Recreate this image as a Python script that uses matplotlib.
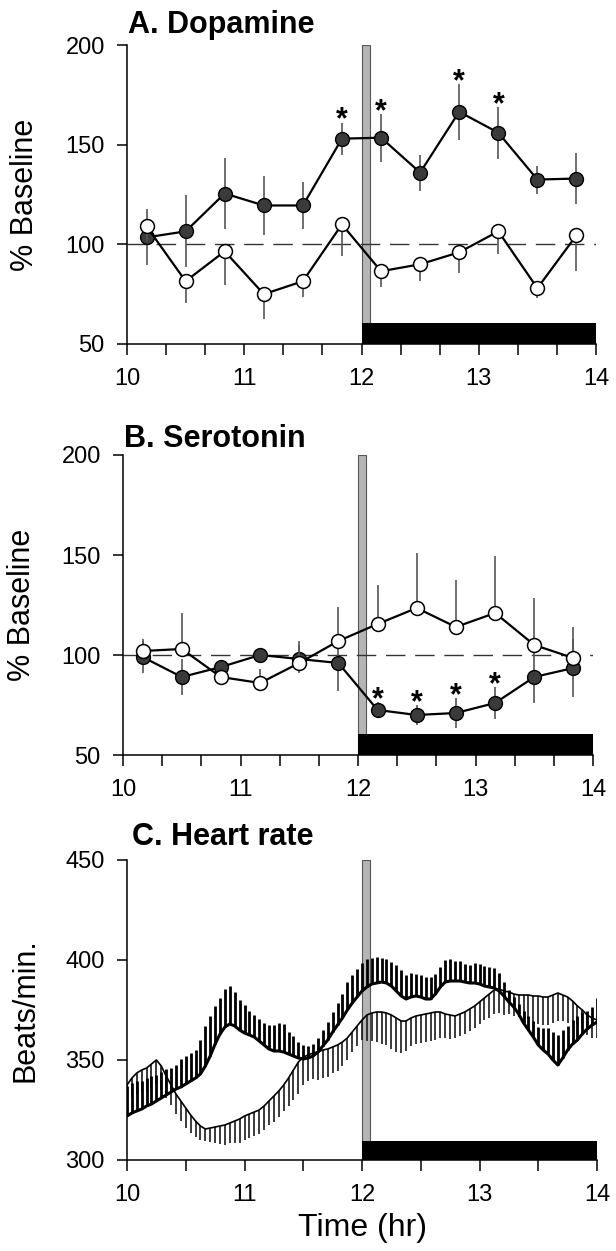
import numpy as np
import matplotlib.pyplot as plt
from matplotlib.ticker import MultipleLocator

plt.rcParams.update({
    'font.family': ['Liberation Sans', 'DejaVu Sans'],
    'font.size': 17,
    'axes.linewidth': 1.1,
    'xtick.major.size': 8, 'xtick.minor.size': 8,
    'ytick.major.size': 7,
    'xtick.major.width': 1.1, 'xtick.minor.width': 1.1,
    'ytick.major.width': 1.1,
    'xtick.major.pad': 9, 'ytick.major.pad': 9,
})

# dialysate samples (20 min bins), % of baseline
sample_time = [10.167, 10.5, 10.833, 11.167, 11.5, 11.833,
               12.167, 12.5, 12.833, 13.167, 13.5, 13.833]

da_filled = [103.5, 106.5, 125.5, 119.5, 119.5, 153, 153.5, 136, 166.5, 156, 132.5, 133]
da_filled_err = [14, 18, 18, 15, 12, 8, 12, 9, 14, 13, 7, 13]
da_open = [109, 81.5, 96.5, 75, 81.5, 110, 86.5, 90, 96, 106.5, 78, 104.5]
da_open_err = [8, 11, 17, 12.5, 8, 16, 8, 8.5, 10.5, 11.5, 5, 18]      # drawn downward
da_stars = [11.833, 12.167, 12.833, 13.167]

sero_filled = [99, 89, 94, 100, 98, 96, 72.5, 70, 71, 76, 89, 93.5]
sero_filled_err = [8, 9, 3, 3, 7, 14, 4, 5, 7.5, 8, 13, 14.5]
sero_open = [102, 103, 89, 86, 96, 107, 115.5, 123.5, 114, 121, 105, 98.5]
sero_open_err = [6, 18, 3, 7, 11, 17, 19.5, 27.5, 23.5, 28.5, 23.5, 15.5]  # drawn upward
sero_stars = [12.167, 12.5, 12.833, 13.167]

# heart rate, 2.5 min bins from 10:00 to 14:00
hr_filled = [
    322, 323.5, 324.5, 325.5, 327, 328, 329.5, 331, 332.5, 334, 335.5, 336.5,
    338, 339.5, 341, 343, 347, 352, 358, 363, 366.5, 368, 367, 365,
    363.5, 362.5, 361.5, 359.5, 357.5, 355.5, 354.5, 354.5, 354, 353, 352, 351,
    350.5, 351, 352, 354, 357, 360, 364, 367.5, 371, 375, 378.5, 381.5,
    384.5, 386.5, 388, 388.5, 389, 388.5, 387, 384.5, 382, 380.5, 381.5, 382,
    381.5, 380.5, 380.5, 383, 386.5, 389, 389.5, 389.5, 389.5, 389, 388.5, 388.5,
    388, 387, 386.5, 386, 384.5, 382, 379, 376.5, 373, 368.5, 365, 361.5,
    357.5, 355, 353, 350, 347.5, 351, 355, 358, 360, 363, 365.5, 367.5,
    369]
hr_filled_err = [
    15, 15, 15, 14, 14, 14, 13, 13, 13, 12, 12, 14,
    14, 14, 14, 17, 20, 20, 19, 18, 19, 19, 17, 15,
    14, 12, 11, 11, 11, 12, 13, 14, 14, 11, 10, 8,
    7, 6, 6, 7, 8, 9, 10, 11, 12, 14, 14, 14,
    14, 14, 13, 13, 12, 12, 12, 13, 13, 12, 12, 11,
    11, 11, 11, 10, 10, 11, 11, 10, 10, 9, 9, 10,
    10, 10, 10, 10, 9, 7, 6, 5, 5, 6, 7, 8,
    9, 11, 13, 14, 15, 14, 12, 12, 12, 11, 9, 9,
    12]
hr_open = [
    337.5, 341, 343.5, 345, 346, 348, 350, 347, 342, 337.5, 333, 329.5,
    326, 322.5, 319.5, 317, 315.5, 316, 316.5, 317, 317.5, 318.5, 319.5, 320.5,
    322, 323, 324, 325, 327, 329.5, 332, 334.5, 337.5, 341, 345, 349,
    351.5, 352.5, 353.5, 354, 355, 355.5, 356.5, 357.5, 359, 361, 364, 367,
    370, 372.5, 373.5, 374, 374, 373.5, 372.5, 371, 369.5, 369.5, 371, 372,
    372.5, 373, 373.5, 374, 374, 373, 372.5, 372, 373, 374, 375.5, 377,
    379, 381, 383, 385, 385.5, 384.5, 384, 383, 382.5, 382.5, 382.5, 382,
    382, 381.5, 381.5, 382.5, 383.5, 382.5, 381.5, 379.5, 377, 375, 372.5, 371,
    370]
hr_open_err = [
    10, 10, 11, 11, 12, 12, 12, 12, 11, 10, 10, 10,
    10, 9, 8, 7, 6, 7, 8, 9, 10, 10, 11, 12,
    12, 12, 12, 12, 12, 12, 13, 13, 13, 14, 15, 16,
    14, 13, 13, 14, 14, 14, 13, 13, 12, 11, 10, 10,
    10, 13, 14, 15, 16, 16, 17, 17, 16, 15, 14, 14,
    14, 14, 14, 14, 13, 12, 12, 11, 11, 11, 11, 11,
    11, 11, 12, 12, 12, 12, 11, 11, 11, 12, 12, 13,
    14, 14, 14, 14, 14, 13, 13, 11, 9, 9, 10, 10,
    9]
hr_time = 10 + np.arange(len(hr_filled)) * 2.5 / 60

injection = (12.0, 12.07)
treatment = (12.0, 14.0)

W, H = 616, 1251
fig = plt.figure(figsize=(W / 100, H / 100), dpi=100)


def box(left, top, right, bottom):
    return [left / W, 1 - bottom / H, (right - left) / W, (bottom - top) / H]


def style_axis(ax, ylim, yticks, minor):
    ax.set_xlim(10, 14)
    ax.set_ylim(*ylim)
    ax.set_xticks([10, 11, 12, 13, 14])
    ax.xaxis.set_minor_locator(MultipleLocator(minor))
    ax.set_yticks(yticks)
    ax.tick_params(which='both', direction='out')
    ax.spines['top'].set_visible(False)
    ax.spines['right'].set_visible(False)
    ax.set_facecolor('none')


def markers(ax, ylim, bar_h):
    ax.axvspan(*injection, fc='#b5b5b5', ec='#555555', lw=0.8, zorder=1)
    ax.fill_between(treatment, ylim[0], ylim[0] + bar_h, color='black', lw=0, zorder=2)


def sample_panel(ax, filled, filled_err, opn, opn_err, opn_up, stars):
    markers(ax, (50, 200), 10.5)
    ax.axhline(100, color='#333333', lw=1.0, ls=(0, (14, 7)), zorder=2)
    ax.errorbar(sample_time, filled, yerr=filled_err, fmt='-o', color='black',
                mfc='#3a3a3a', mec='black', ms=10, mew=1.0, lw=1.6,
                ecolor='#555555', elinewidth=1.2, capsize=0, zorder=4)
    zeros = [0] * len(opn_err)
    err = [zeros, opn_err] if opn_up else [opn_err, zeros]
    ax.errorbar(sample_time, opn, yerr=err, fmt='-o', color='black',
                mfc='white', mec='black', ms=10, mew=1.1, lw=1.6,
                ecolor='#555555', elinewidth=1.2, capsize=0, zorder=5)
    for t in stars:
        i = sample_time.index(t)
        top = filled[i] + filled_err[i]
        ax.text(t, top - 3, '*', ha='center', va='baseline',
                fontsize=22, fontweight='bold', zorder=6)
    style_axis(ax, (50, 200), [50, 100, 150, 200], 1 / 3)


ax_a = fig.add_axes(box(127, 45, 596, 344))
sample_panel(ax_a, da_filled, da_filled_err, da_open, da_open_err, False, da_stars)

ax_b = fig.add_axes(box(123, 455, 593, 755))
sample_panel(ax_b, sero_filled, sero_filled_err, sero_open, sero_open_err, True, sero_stars)

ax_c = fig.add_axes(box(127, 860, 597, 1160))
markers(ax_c, (300, 450), 9.5)
hr_filled = np.array(hr_filled)
hr_open = np.array(hr_open)
ax_c.vlines(hr_time, hr_open - np.array(hr_open_err), hr_open,
            color='#222222', lw=1.25, zorder=3)
ax_c.plot(hr_time, hr_open, color='black', lw=1.2, zorder=4)
ax_c.vlines(hr_time, hr_filled, hr_filled + np.array(hr_filled_err),
            color='black', lw=2.0, zorder=5)
ax_c.plot(hr_time, hr_filled, color='black', lw=2.2, zorder=6)
style_axis(ax_c, (300, 450), [300, 350, 400, 450], 0.5)

# titles and axis labels
fig.text(128 / W, 1 - 33 / H, 'A. Dopamine', fontsize=22, fontweight='bold', va='baseline')
fig.text(124 / W, 1 - 447 / H, 'B. Serotonin', fontsize=22, fontweight='bold', va='baseline')
fig.text(132 / W, 1 - 845 / H, 'C. Heart rate', fontsize=22, fontweight='bold', va='baseline')
fig.text(25 / W, 1 - 195 / H, '% Baseline', rotation=90, ha='center', va='center', fontsize=22)
fig.text(22 / W, 1 - 605 / H, '% Baseline', rotation=90, ha='center', va='center', fontsize=22)
fig.text(25 / W, 1 - 1010 / H, 'Beats/min.', rotation=90, ha='center', va='center', fontsize=22)
fig.text(362 / W, 1 - 1228 / H, 'Time (hr)', ha='center', va='center', fontsize=23)

fig.savefig('out.png', dpi=100)
